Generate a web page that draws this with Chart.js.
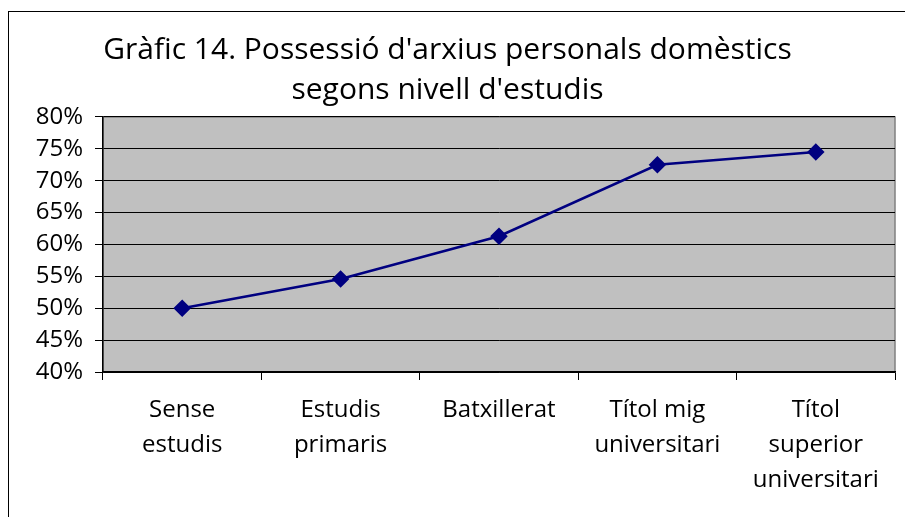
<!DOCTYPE html>
<html>
<head>
<meta charset="utf-8">
<script src="https://cdn.jsdelivr.net/npm/chart.js@4/dist/chart.umd.min.js"></script>
<style>
    body { margin: 0; background: #fff; }
    #wrap { position: relative; width: 905px; height: 517px; overflow: hidden; }
    #frame { position: absolute; left: 8px; top: 11px; width: 920px; height: 540px; border: 1.5px solid #000; }
    canvas { position: absolute; left: 0; top: 0; }
</style>
</head>
<body>
<div id="wrap">
    <div id="frame"></div>
    <canvas id="grafic" width="905" height="517"></canvas>
</div>
<script>
const categories = [
    ['Sense', 'estudis'],
    ['Estudis', 'primaris'],
    ['Batxillerat'],
    ['Títol mig', 'universitari'],
    ['Títol', 'superior', 'universitari']
]
const possessio = [50.0, 54.6, 61.3, 72.5, 74.5]
const y_ticks = [40, 45, 50, 55, 60, 65, 70, 75, 80]

const font_family = "'Open Sans', sans-serif"

const plot_background = {
    id: 'plot_background',
    beforeDraw(chart) {
        const ctx = chart.ctx
        const a = chart.chartArea
        ctx.save()
        ctx.fillStyle = '#c0c0c0'
        ctx.fillRect(a.left, a.top, a.right - a.left, a.bottom - a.top)
        ctx.strokeStyle = '#808080'
        ctx.lineWidth = 1.5
        ctx.strokeRect(a.left, a.top, a.right - a.left, a.bottom - a.top)
        ctx.restore()
    }
}

new Chart(document.getElementById('grafic'), {
    type: 'line',
    data: {
        labels: categories,
        datasets: [{
            label: 'Possessió',
            data: possessio,
            borderColor: '#000080',
            backgroundColor: '#000080',
            borderWidth: 2.5,
            pointStyle: 'rectRot',
            pointRadius: 7,
            pointHoverRadius: 7,
            tension: 0
        }]
    },
    options: {
        responsive: false,
        animation: false,
        layout: { padding: { left: 0, right: 10, top: 0, bottom: 0 } },
        plugins: {
            legend: { display: false },
            tooltip: { enabled: false },
            title: {
                display: true,
                text: ["Gràfic 14. Possessió d'arxius personals domèstics", "segons nivell d'estudis"],
                color: '#000',
                font: { family: font_family, size: 30, weight: 'normal', lineHeight: 1.333 },
                padding: { top: 30, bottom: 7 }
            }
        },
        scales: {
            x: {
                offset: true,
                grid: { offset: true, drawOnChartArea: false, drawTicks: true, tickLength: 8, color: '#000' },
                border: { color: '#000', width: 1.5 },
                ticks: {
                    color: '#000',
                    font: { family: font_family, size: 24, lineHeight: 1.46 },
                    padding: 13,
                    maxRotation: 0,
                    autoSkip: false
                },
                afterFit(scale) { scale.height = 145 }
            },
            y: {
                min: 40,
                max: 80,
                afterBuildTicks(scale) { scale.ticks = y_ticks.map(v => ({ value: v })) },
                grid: { color: '#000', lineWidth: 1, drawTicks: true, tickLength: 8 },
                border: { color: '#000', width: 1.5 },
                ticks: {
                    color: '#000',
                    font: { family: font_family, size: 24 },
                    padding: 12,
                    callback: v => v + '%'
                },
                afterFit(scale) { scale.width = 103 }
            }
        }
    },
    plugins: [plot_background]
});
</script>
</body>
</html>
